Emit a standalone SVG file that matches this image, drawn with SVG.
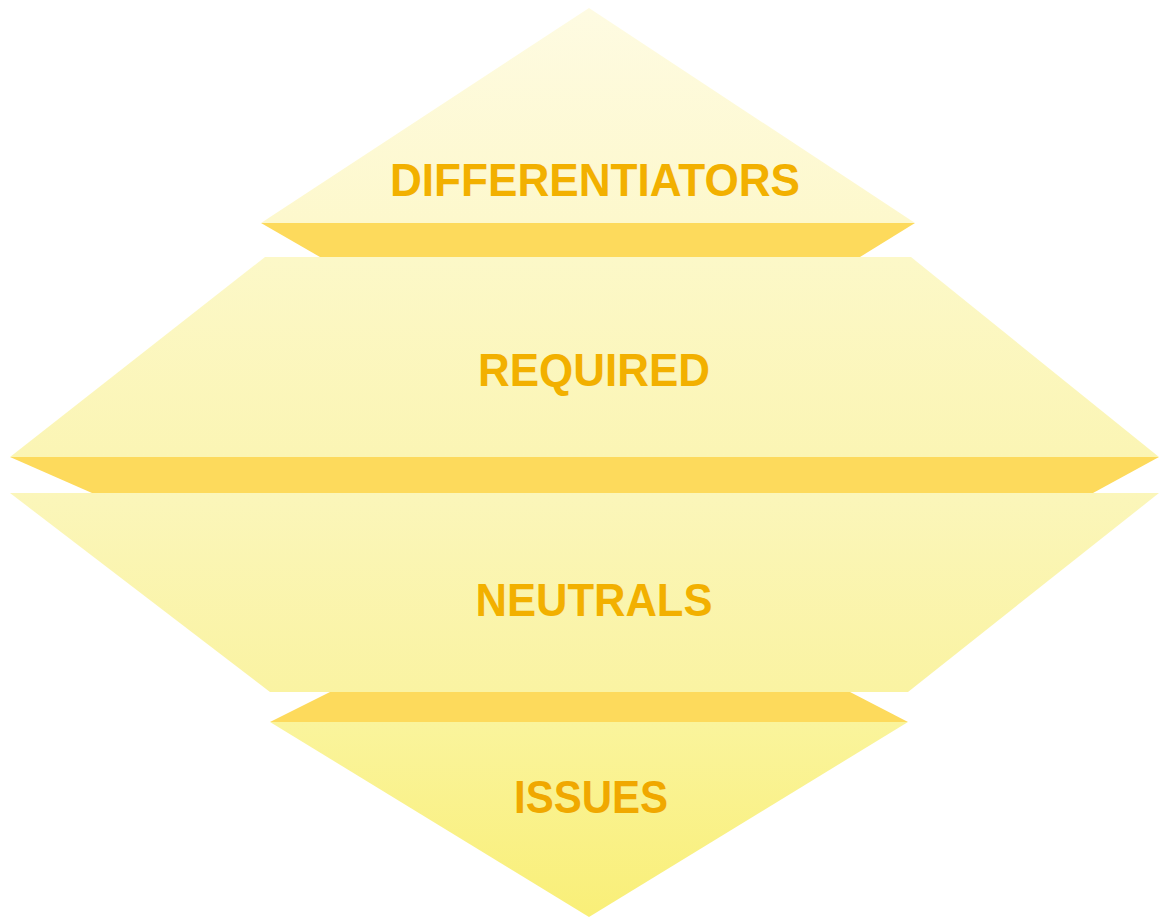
<svg xmlns="http://www.w3.org/2000/svg" width="1160" height="919" viewBox="0 0 1160 919">
  <defs>
    <linearGradient id="g1" x1="0" y1="0" x2="0" y2="1">
      <stop offset="0" stop-color="#FEFBE2"/>
      <stop offset="1" stop-color="#FDF8CC"/>
    </linearGradient>
    <linearGradient id="g2" x1="0" y1="0" x2="0" y2="1">
      <stop offset="0" stop-color="#FCF8C8"/>
      <stop offset="1" stop-color="#FBF5B4"/>
    </linearGradient>
    <linearGradient id="g3" x1="0" y1="0" x2="0" y2="1">
      <stop offset="0" stop-color="#FBF6BA"/>
      <stop offset="1" stop-color="#FAF3A2"/>
    </linearGradient>
    <linearGradient id="g4" x1="0" y1="0" x2="0" y2="1">
      <stop offset="0" stop-color="#FAF49C"/>
      <stop offset="1" stop-color="#F9EF78"/>
    </linearGradient>
    <style>
      .band { fill: #FDDA5C; }
      .label { font-family: "Liberation Sans", Arial, sans-serif; font-weight: bold; font-size: 46px; fill: #F2B000; text-anchor: middle; }
    </style>
  </defs>

  <rect width="1160" height="919" fill="#FFFFFF"/>

  <g id="differentiators">
    <polygon points="589,8 915,223 261,223" fill="url(#g1)"/>
    <polygon class="band" points="261,223 915,223 860,257 320,257"/>
    <text class="label" x="595" y="196" textLength="410" lengthAdjust="spacingAndGlyphs">DIFFERENTIATORS</text>
  </g>

  <g id="required">
    <polygon points="265,257 911,257 1159,457 10,457" fill="url(#g2)"/>
    <polygon class="band" points="10,457 1159,457 1093,493 92,493"/>
    <text class="label" x="594" y="386" textLength="232" lengthAdjust="spacingAndGlyphs">REQUIRED</text>
  </g>

  <g id="neutrals">
    <polygon points="10,493 1159,493 908,692 270,692" fill="url(#g3)"/>
    <polygon class="band" points="330,692 850,692 908,722 270,722"/>
    <text class="label" x="594" y="616" textLength="237" lengthAdjust="spacingAndGlyphs">NEUTRALS</text>
  </g>

  <g id="issues">
    <polygon points="270,722 908,722 589,917" fill="url(#g4)"/>
    <text class="label" x="591" y="813" textLength="154" lengthAdjust="spacingAndGlyphs" style="fill:#F0A800">ISSUES</text>
  </g>

  <g id="connectors"/>
</svg>
